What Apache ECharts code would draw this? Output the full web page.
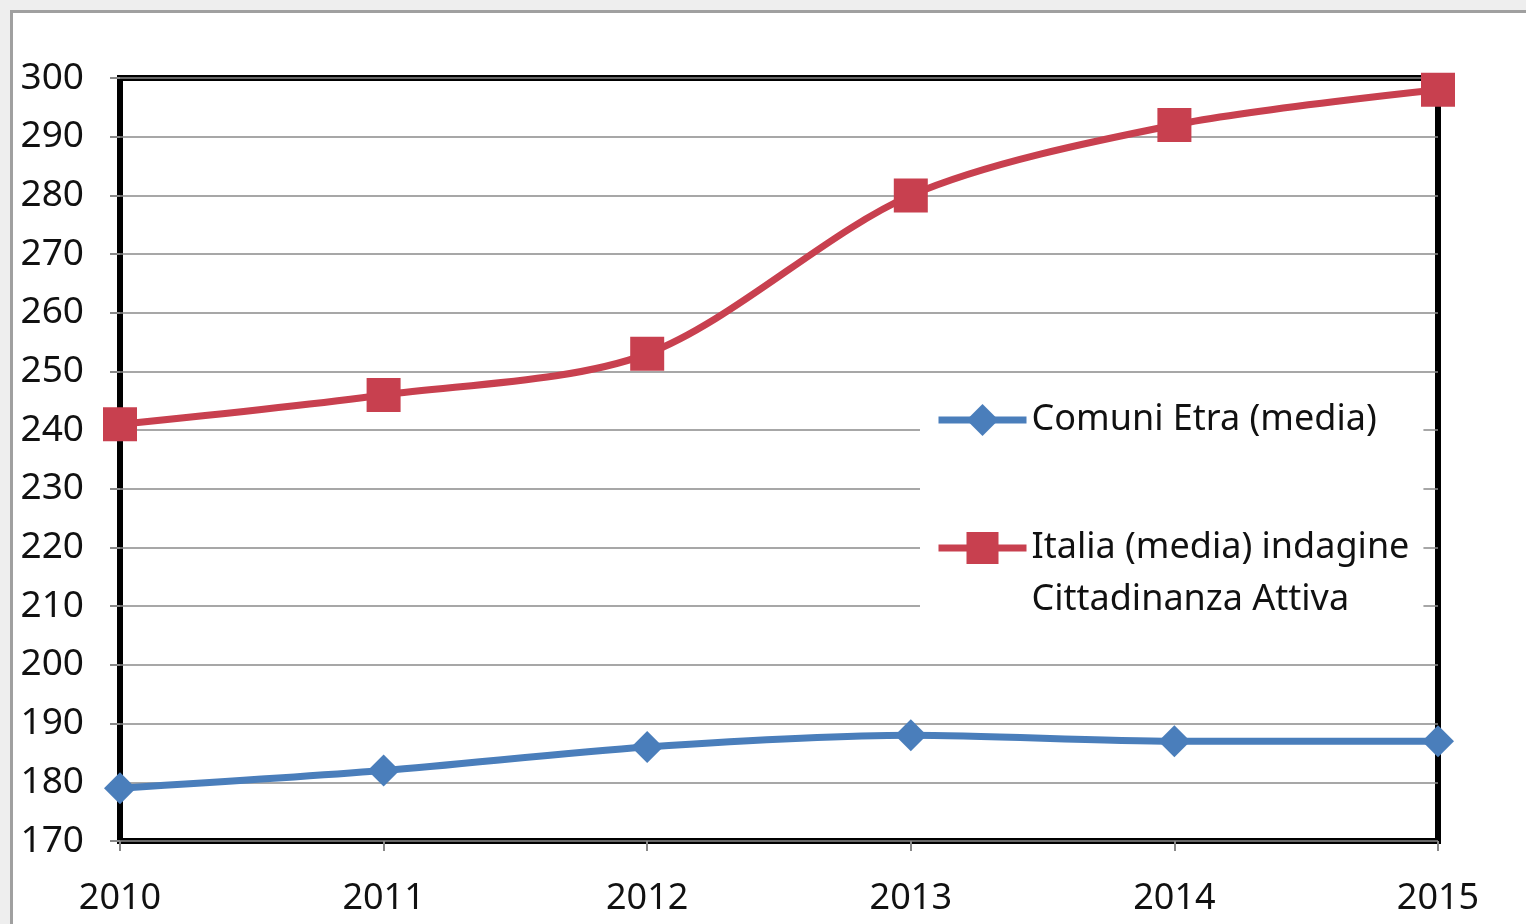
<!DOCTYPE html>
<html>
<head>
<meta charset="utf-8">
<script src="https://cdn.jsdelivr.net/npm/echarts@6/dist/echarts.min.js"></script>
<style>
  html, body { margin: 0; padding: 0; background: #eeeeee; }
  #chart { width: 1526px; height: 924px; }
</style>
</head>
<body>
<div id="chart"></div>
<script>
// dati
var anni = ['2010', '2011', '2012', '2013', '2014', '2015'];
var comuniEtra = [179, 182, 186, 188, 187, 187];
var italia = [241, 246, 253, 280, 292, 298];
var nomeEtra = 'Comuni Etra (media)';
var nomeItalia = 'Italia (media) indagine';
var nomeItalia2 = 'Cittadinanza Attiva';

var myChart = echarts.init(document.getElementById('chart'));

var font = 'Noto Sans';

var option = {
    backgroundColor: '#eeeeee',
    animation: false,
    graphic: [{
        type: 'rect',
        left: 10, top: 10,
        shape: { width: 1540, height: 940 },
        style: { fill: '#ffffff', stroke: '#a0a0a0', lineWidth: 3 },
        z: -10
    }],
    grid: {
        left: 120, right: 88, top: 78, bottom: 83,
        show: true,
        borderColor: '#000',
        borderWidth: 6,
        backgroundColor: 'transparent'
    },
    legend: {
        orient: 'vertical',
        left: 920,
        top: 390,
        padding: [4, 14, 4, 15],
        backgroundColor: '#ffffff',
        itemGap: 24,
        itemWidth: 88,
        itemHeight: 40,
        data: [nomeEtra, nomeItalia],
        formatter: function (name) {
            if (name === nomeItalia) return '\n' + nomeItalia + '\n' + nomeItalia2;
            return name;
        },
        lineStyle: { width: 7 },
        textStyle: { fontFamily: font, fontSize: 36, lineHeight: 52, color: '#111' },
        z: 5
    },
    xAxis: {
        type: 'category',
        data: anni,
        boundaryGap: false,
        axisLine: { show: false },
        axisTick: { show: true, length: 10, lineStyle: { color: '#888', width: 2 } },
        axisLabel: { fontFamily: font, fontSize: 36, color: '#111', margin: 40 }
    },
    yAxis: {
        type: 'value',
        min: 170, max: 300, interval: 10,
        axisLine: { show: false },
        axisTick: { show: true, length: 10, lineStyle: { color: '#888', width: 2 } },
        axisLabel: { fontFamily: font, fontSize: 37, color: '#111', margin: 36 },
        splitLine: { lineStyle: { color: '#8a8a8a', width: 1.5 } }
    },
    series: [{
        name: nomeEtra,
        type: 'line',
        data: comuniEtra,
        smooth: 0.3,
        symbol: 'diamond',
        symbolSize: 32,
        itemStyle: { color: '#4A7EBB' },
        lineStyle: { color: '#4A7EBB', width: 7 },
        z: 3
    }, {
        name: nomeItalia,
        type: 'line',
        data: italia,
        smooth: 0.3,
        symbol: 'rect',
        symbolSize: 34,
        itemStyle: { color: '#C8404F' },
        lineStyle: { color: '#C8404F', width: 7 },
        z: 3
    }]
};

myChart.setOption(option);
</script>
</body>
</html>
